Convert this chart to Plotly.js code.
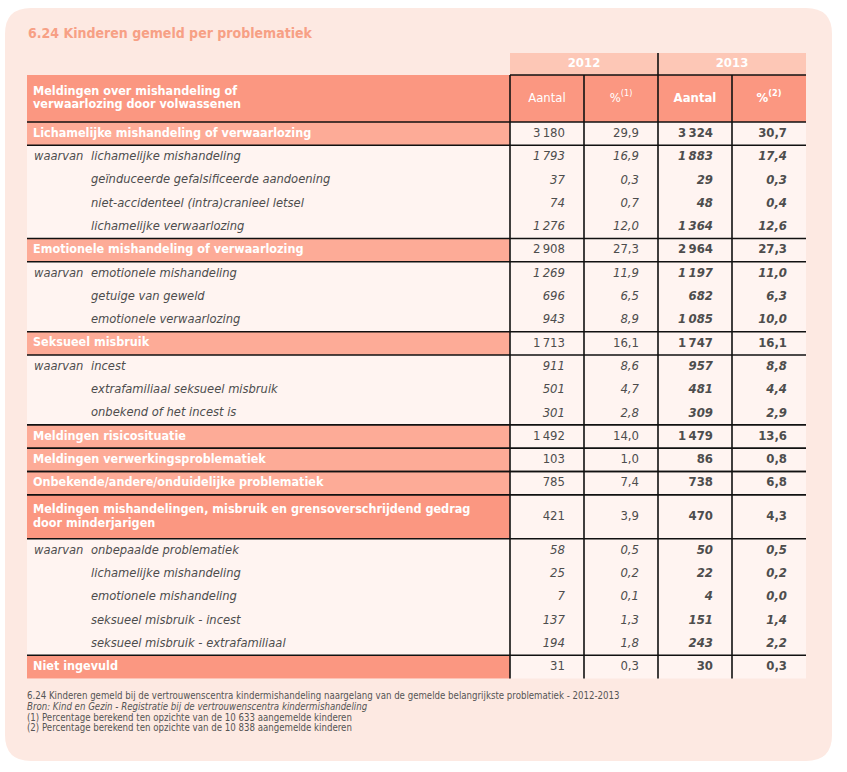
<!DOCTYPE html>
<html><head><meta charset="utf-8">
<script src="https://cdn.plot.ly/plotly-3.0.1.min.js"></script>
<style>html,body{margin:0;padding:0;background:#fff}</style>
</head><body><div id="chart" style="width:847px;height:772px"></div>
<script>
// ---------- data ----------
const chartTitle = "6.24 Kinderen gemeld per problematiek";
const years = ["2012", "2013"];
const colHeaders = ["Aantal", "%<sup>(1)</sup>", "Aantal", "%<sup>(2)</sup>"];
const headLabel = "Meldingen over mishandeling of<br>verwaarlozing door volwassenen";
const rowLabels = [
  "Lichamelijke mishandeling of verwaarlozing",
  "lichamelijke mishandeling",
  "geïnduceerde gefalsificeerde aandoening",
  "niet-accidenteel (intra)cranieel letsel",
  "lichamelijke verwaarlozing",
  "Emotionele mishandeling of verwaarlozing",
  "emotionele mishandeling",
  "getuige van geweld",
  "emotionele verwaarlozing",
  "Seksueel misbruik",
  "incest",
  "extrafamiliaal seksueel misbruik",
  "onbekend of het incest is",
  "Meldingen risicosituatie",
  "Meldingen verwerkingsproblematiek",
  "Onbekende/andere/onduidelijke problematiek",
  "Meldingen mishandelingen, misbruik en grensoverschrijdend gedrag<br>door minderjarigen",
  "onbepaalde problematiek",
  "lichamelijke mishandeling",
  "emotionele mishandeling",
  "seksueel misbruik - incest",
  "seksueel misbruik - extrafamiliaal",
  "Niet ingevuld"
];
const rowKind = ["cat","sub","sub","sub","sub","cat","sub","sub","sub","cat","sub","sub","sub",
  "cat","cat","cat","cat2","sub","sub","sub","sub","sub","cat2end"];
const rowPrefix = ["","waarvan","","","","","waarvan","","","","waarvan","","","","","","","waarvan","","","","",""];
const aantal2012 = [3180,1793,37,74,1276,2908,1269,696,943,1713,911,501,301,1492,103,785,421,58,25,7,137,194,31];
const pct2012    = [29.9,16.9,0.3,0.7,12.0,27.3,11.9,6.5,8.9,16.1,8.6,4.7,2.8,14.0,1.0,7.4,3.9,0.5,0.2,0.1,1.3,1.8,0.3];
const aantal2013 = [3324,1883,29,48,1364,2964,1197,682,1085,1747,957,481,309,1479,86,738,470,50,22,4,151,243,30];
const pct2013    = [30.7,17.4,0.3,0.4,12.6,27.3,11.0,6.3,10.0,16.1,8.8,4.4,2.9,13.6,0.8,6.8,4.3,0.5,0.2,0.0,1.4,2.2,0.3];
const notes = [
  "6.24 Kinderen gemeld bij de vertrouwenscentra kindermishandeling naargelang van de gemelde belangrijkste problematiek - 2012-2013",
  "<i>Bron: Kind en Gezin - Registratie bij de vertrouwenscentra kindermishandeling</i>",
  "(1) Percentage berekend ten opzichte van de 10 633 aangemelde kinderen",
  "(2) Percentage berekend ten opzichte van de 10 838 aangemelde kinderen"
];

// ---------- styling / geometry ----------
const FONT = "'Liberation Sans Narrow', 'DejaVu Sans Condensed', 'Arial Narrow', 'Liberation Sans', sans-serif";
const TXT = "#4d4d4d";
const PANEL = "#fde9e2", BODY = "#fff4f1", YEARFILL = "#fdc7b6", HEADFILL = "#fb9781";
const CATFILL = {cat: "#fdab97", cat2: "#fb9781", cat2end: "#fb9781"};
const X0 = 27, XR = 806;
const colEdges = [510, 584, 658, 732, 806];
const yearTop = 53, headTop = 75, headBot = 122;
const rowH = 23.3, rowH2 = 44;

const fmtInt = v => { const s = String(v); return s.length > 3 ? s.slice(0, s.length-3) + "\u2009" + s.slice(-3) : s; };
const fmtPct = v => v.toFixed(1).replace(".", ",");

// row positions
const tops = [], bots = [];
let yy = headBot;
rowLabels.forEach((l, i) => {
  const h = l.includes("<br>") ? rowH2 : rowH;
  tops.push(yy); yy += h; bots.push(yy);
});
const tableBot = yy;
const mids = tops.map((t, i) => (t + bots[i]) / 2);
const isCat = rowKind.map(k => k !== "sub");

const shapes = [];
const rect = (x0, y0, x1, y1, fill) => shapes.push({type: "rect", xref: "x", yref: "y", x0, y0, x1, y1, fillcolor: fill, line: {width: 0}, layer: "below"});
const line = (x0, y0, x1, y1, w) => shapes.push({type: "line", xref: "x", yref: "y", x0, y0, x1, y1, line: {color: "#111", width: w || 1.6}, layer: "above"});

// panel
const px0 = 5, px1 = 832, py0 = 8, py1 = 761, r = 26;
shapes.push({type: "path", xref: "x", yref: "y", layer: "below", fillcolor: PANEL, line: {width: 0},
  path: `M${px0+r},${py0} L${px1-r},${py0} Q${px1},${py0} ${px1},${py0+r} L${px1},${py1-r} Q${px1},${py1} ${px1-r},${py1} L${px0+r},${py1} Q${px0},${py1} ${px0},${py1-r} L${px0},${py0+r} Q${px0},${py0} ${px0+r},${py0} Z`});
// backgrounds
rect(X0, headBot, XR, tableBot, BODY);
rect(colEdges[0], yearTop, XR, headTop, YEARFILL);
rect(X0, headTop, XR, headBot, HEADFILL);
rowLabels.forEach((l, i) => { if (isCat[i]) rect(X0, tops[i], colEdges[0], bots[i], CATFILL[rowKind[i]]); });
// lines
line(colEdges[0], headTop, XR, headTop);
line(X0, headBot, XR, headBot);
rowLabels.forEach((l, i) => {
  if (isCat[i]) {
    if (i > 0) line(X0, tops[i], XR, tops[i]);
    if (i < rowLabels.length - 1) line(X0, bots[i], XR, bots[i]);
  }
});
colEdges.slice(0, 4).forEach(x => line(x, headTop, x, tableBot));
line(colEdges[2], yearTop, colEdges[2], headTop);

// ---------- text traces ----------
const traces = [];
function textTrace(xs, ys, texts, pos, size, color) {
  traces.push({type: "scatter", mode: "text", x: xs, y: ys, text: texts, textposition: pos,
    textfont: {family: FONT, size: size, color: color}, hoverinfo: "skip", cliponaxis: false, showlegend: false});
}
const LS = 13.5; // line spacing of two-line labels
// title
textTrace([28], [34], ["<b>" + chartTitle + "</b>"], "middle right", 14, "#f7a085");
// years
textTrace([(colEdges[0]+colEdges[2])/2, (colEdges[2]+colEdges[4])/2], [64, 64], years.map(y => "<b>" + y + "</b>"), "middle center", 13, "#ffffff");
// column headers
textTrace(colEdges.slice(0,4).map((x, j) => (x + colEdges[j+1]) / 2), [98.5, 98.5, 98.5, 98.5],
  colHeaders.map((h, j) => j >= 2 ? "<b>" + h + "</b>" : h), "middle center", 13, "#ffffff");
// head label (two lines)
const hl = headLabel.split("<br>");
textTrace(hl.map(() => 33), hl.map((s, k) => 98.5 + (k - (hl.length-1)/2) * LS), hl.map(s => "<b>" + s + "</b>"), "middle right", 12.5, "#ffffff");
// category labels
const catX = [], catY = [], catT = [];
rowLabels.forEach((l, i) => {
  if (!isCat[i]) return;
  const parts = l.split("<br>");
  parts.forEach((p, k) => { catX.push(33); catY.push(mids[i] + (k - (parts.length-1)/2) * LS); catT.push("<b>" + p + "</b>"); });
});
textTrace(catX, catY, catT, "middle right", 12.5, "#ffffff");
// sub labels
const subIdx = rowLabels.map((l, i) => i).filter(i => !isCat[i]);
textTrace(subIdx.map(() => 91), subIdx.map(i => mids[i]), subIdx.map(i => "<i>" + rowLabels[i] + "</i>"), "middle right", 12.8, TXT);
const preIdx = subIdx.filter(i => rowPrefix[i]);
textTrace(preIdx.map(() => 34), preIdx.map(i => mids[i]), preIdx.map(i => "<i>" + rowPrefix[i] + "</i>"), "middle right", 12.8, TXT);
// numbers
const numCols = [
  {vals: aantal2012.map(fmtInt), bold: false},
  {vals: pct2012.map(fmtPct), bold: false},
  {vals: aantal2013.map(fmtInt), bold: true},
  {vals: pct2013.map(fmtPct), bold: true}
];
numCols.forEach((c, j) => {
  const xr = colEdges[j+1] - 19;
  textTrace(rowLabels.map(() => xr), mids, c.vals.map((v, i) => {
    let s = v;
    if (!isCat[i]) s = "<i>" + s + "</i>";
    if (c.bold) s = "<b>" + s + "</b>";
    return s;
  }), "middle left", 13, TXT);
});
// notes
textTrace(notes.map(() => 27), notes.map((n, k) => 697 + k * 10.7), notes, "middle right", 9.6, "#555555");

const layout = {
  width: 847, height: 772, margin: {l: 0, r: 0, t: 0, b: 0},
  paper_bgcolor: "#ffffff", plot_bgcolor: "#ffffff",
  xaxis: {range: [0, 847], visible: false, fixedrange: true},
  yaxis: {range: [772, 0], visible: false, fixedrange: true},
  shapes: shapes, showlegend: false
};
Plotly.newPlot("chart", traces, layout, {staticPlot: true, displayModeBar: false});
</script></body></html>
